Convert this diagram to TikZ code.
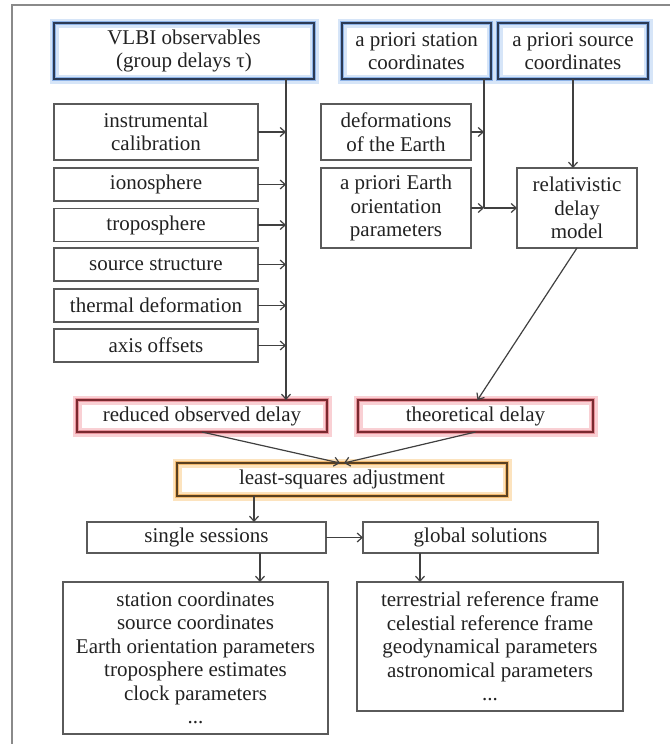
\documentclass[tikz,border=0pt]{standalone}
\usepackage{fontspec}
\setmainfont{Liberation Serif}
\newfontfamily\diagfont{Liberation Serif}
\usetikzlibrary{arrows.meta}
\definecolor{txt}{HTML}{222222}
\definecolor{ln}{HTML}{404040}
\definecolor{boxln}{HTML}{5A5A5A}
\definecolor{frame}{HTML}{8A8A8A}
\definecolor{bdark}{HTML}{2B3A55}
\definecolor{bmid}{HTML}{8DB3E8}
\definecolor{blite}{HTML}{D6E5F8}
\definecolor{rdark}{HTML}{7A2A30}
\definecolor{rmid}{HTML}{E8939C}
\definecolor{rlite}{HTML}{F9D0D4}
\definecolor{odark}{HTML}{5A4020}
\definecolor{omid}{HTML}{F2BA70}
\definecolor{olite}{HTML}{FCE3BE}
\tikzset{
  box/.style={rectangle, inner sep=0pt, outer sep=0pt, align=center, text=txt,
    font=\diagfont\fontsize{21}{23.5}\selectfont},
  plain/.style={box, draw=boxln, line width=1.2pt},
  blueglow/.style={box, draw=bdark, line width=1.6pt,
    preaction={draw=blite, line width=9pt},
    preaction={draw=bmid, line width=4.5pt}},
  redglow/.style={box, draw=rdark, line width=1.6pt,
    preaction={draw=rlite, line width=9pt},
    preaction={draw=rmid, line width=4.5pt}},
  orangeglow/.style={box, draw=odark, line width=1.6pt,
    preaction={draw=olite, line width=9pt},
    preaction={draw=omid, line width=4.5pt}},
  arr/.style={draw=ln, line width=1.2pt, -{Straight Barb[length=5pt,width=9pt]}},
  conn/.style={draw=ln, line width=1.2pt}
}
\begin{document}
\begin{tikzpicture}[x=1pt,y=-1pt]
\useasboundingbox (0,0) rectangle (670,744);
\draw[frame, line width=1.5pt] (12,744) -- (12,5) -- (670,5);

% top inputs
\node[blueglow, minimum width=260, minimum height=56] (vlbi) at (184,51) {VLBI observables\\(group delays τ)};
\node[blueglow, minimum width=149, minimum height=56] (stat) at (416.5,51) {a priori station\\coordinates};
\node[blueglow, minimum width=150, minimum height=56] (src) at (573,51) {a priori source\\coordinates};

% corrections
\node[plain, minimum width=204, minimum height=56] (instr) at (156,132) {instrumental\\calibration};
\node[plain, minimum width=204, minimum height=33] (iono) at (156,184.5) {ionosphere};
\node[plain, minimum width=204, minimum height=33] (tropo) at (156,225) {troposphere};
\node[plain, minimum width=204, minimum height=33] (sstruct) at (156,264.5) {source structure};
\node[plain, minimum width=204, minimum height=33] (therm) at (156,305.5) {thermal deformation};
\node[plain, minimum width=204, minimum height=33] (axis) at (156,345.5) {axis offsets};

\node[plain, minimum width=150, minimum height=56] (deform) at (396,132) {deformations\\of the Earth};
\node[plain, minimum width=150, minimum height=80] (eop) at (396,208) {a priori Earth\\orientation\\parameters};
\node[plain, minimum width=120, minimum height=80] (rel) at (577,208) {relativistic\\delay\\model};

% delays
\node[redglow, minimum width=250, minimum height=32] (red) at (202,416) {reduced observed delay};
\node[redglow, minimum width=235, minimum height=32] (theo) at (475.5,416) {theoretical delay};

\node[orangeglow, minimum width=330, minimum height=33] (lsq) at (342,479.5) {least-squares adjustment};

\node[plain, minimum width=239, minimum height=31] (single) at (206.5,537.5) {single sessions};
\node[plain, minimum width=235, minimum height=31] (global) at (480.5,537.5) {global solutions};

\node[plain, minimum width=265, minimum height=152] (res1) at (195.5,658) {station coordinates\\source coordinates\\Earth orientation parameters\\troposphere estimates\\clock parameters\\...};
\node[plain, minimum width=266, minimum height=129] (res2) at (490,646.5) {terrestrial reference frame\\celestial reference frame\\geodynamical parameters\\astronomical parameters\\...};

% connectors
\coordinate (vx) at (286,0);
\coordinate (sx) at (484,0);
\coordinate (lx) at (254,0);
\coordinate (s1x) at (260,0);
\coordinate (g1x) at (420,0);

\draw[arr] (vlbi.south -| vx) -- (red.north -| vx);
\foreach \n in {instr,iono,tropo,sstruct,therm,axis}
  \draw[arr] (\n.east) -- (\n.east -| vx);

\draw[conn] (stat.south -| sx) -- (eop.east -| sx);
\draw[arr] (deform.east) -- (deform.east -| sx);
\draw[arr] (eop.east) -- (eop.east -| sx);
\draw[arr] (eop.east -| sx) -- (rel.west);
\draw[arr] (src.south) -- (src.south |- rel.north);

\draw[arr] (rel.south) -- ([xshift=2pt]theo.north);
\draw[arr] (red.south) -- ([xshift=-2pt]lsq.north);
\draw[arr] (theo.south) -- ([xshift=2pt]lsq.north);

\draw[arr] (lsq.south -| lx) -- (single.north -| lx);
\draw[arr] (single.east) -- (global.west);
\draw[arr] (single.south -| s1x) -- (res1.north -| s1x);
\draw[arr] (global.south -| g1x) -- (res2.north -| g1x);
\end{tikzpicture}
\end{document}
